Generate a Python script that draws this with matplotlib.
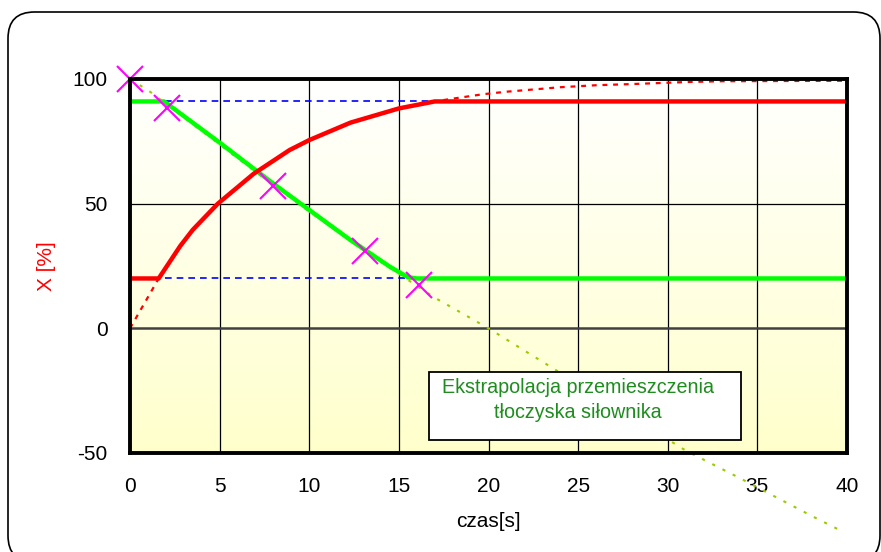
import numpy as np
import matplotlib.pyplot as plt
from matplotlib.patches import FancyBboxPatch

plt.rcParams['font.family'] = ['Liberation Sans', 'DejaVu Sans']
plt.rcParams['axes.unicode_minus'] = False

# czas [s] i przebiegi [%]
red_t = [0, 1.6, 2.8, 3.5, 4.9, 6.9, 8.9, 10, 12.3, 15, 17, 40]
red_x = [20, 20, 33, 39.5, 50, 62, 71.5, 75.5, 82.5, 88.2, 91, 91]

model_t = [0, 1.6, 2.8, 3.5, 4.9, 6.9, 8.9, 10, 12.3, 15, 17, 17.9, 19.7, 21, 24, 26, 28.1, 31.1, 33, 40]
model_x = [0, 20, 33, 39.5, 50, 62, 71.5, 75.5, 82.5, 88.2, 91, 92, 93.9, 94.9, 96.7, 97.5, 98, 98.8, 99.1, 99.3]

green_t = [0, 1.9, 5, 8, 12.3, 14.5, 15.5, 16, 40]
green_x = [91, 91, 74.5, 58, 35.4, 24.7, 20.5, 20, 20]

extra_t = [0, 1.1, 5.4, 9.1, 13, 16.9, 20, 31, 34, 38.1, 39.7]
extra_x = [100, 95, 71.5, 51.5, 31.5, 12.7, 0, -49, -60, -75.5, -81.3]

marker_t = [0, 2.05, 8.0, 13.1, 16.1]
marker_x = [100, 88.2, 57.1, 31, 17.5]

limits = [91, 20]

fig = plt.figure(figsize=(8.81, 5.52), dpi=100)
fig.patch.set_facecolor('white')

# zaokraglona ramka wokol wykresu
frame = FancyBboxPatch((8 / 881, -10 / 552), 872 / 881, 550 / 552,
                       boxstyle="round,pad=0,rounding_size=0.03",
                       transform=fig.transFigure, fill=False, ec='black', lw=1.2,
                       mutation_aspect=881 / 552)
fig.patches.append(frame)

ax = fig.add_axes([130 / 881, 1 - 453 / 552, 717 / 881, 374 / 552])
ax.set_xlim(0, 40)
ax.set_ylim(-50, 100)

grad = np.linspace(0, 1, 256).reshape(-1, 1)
cmap = plt.matplotlib.colors.LinearSegmentedColormap.from_list('bg', ['#FFFFCC', '#FFFFFF'])
ax.imshow(grad, extent=[0, 40, -50, 100], aspect='auto', cmap=cmap, origin='lower', zorder=0)

for xv in range(5, 40, 5):
    ax.axvline(xv, color='black', lw=0.9, zorder=1)
ax.axhline(50, color='black', lw=0.9, zorder=1)
ax.axhline(0, color='#404040', lw=1.8, zorder=1)

for lv in limits:
    ax.plot([0, 40], [lv, lv], color='#0000FF', lw=1.2, ls=(0, (4, 3)), zorder=3)

ax.plot(model_t, model_x, color='#FF0000', lw=1.6, ls=(0, (2.2, 2.6)), zorder=3)
ax.plot(extra_t, extra_x, color='#99CC00', lw=1.5, ls=(0, (1.5, 4)), zorder=3, clip_on=False)
ax.plot(green_t, green_x, color='#00FF00', lw=3.2, zorder=4)
ax.plot(red_t, red_x, color='#FF0000', lw=3.2, zorder=4)
ax.plot(marker_t, marker_x, ls='none', marker='x', ms=19, mew=1.5, color='#FF00FF', zorder=5, clip_on=False)

for s in ax.spines.values():
    s.set_linewidth(2.8)
    s.set_color('black')
    s.set_zorder(6)

ax.set_xticks(range(0, 45, 5))
ax.set_yticks([-50, 0, 50, 100])
ax.tick_params(axis='x', length=0, labelsize=15, pad=17)
ax.tick_params(axis='y', length=0, labelsize=15, pad=16)
ax.set_xlabel('czas[s]', fontsize=15, labelpad=12)
ax.set_ylabel('X [%]', fontsize=15, color='#FF0000', labelpad=12)

box = FancyBboxPatch((429 / 881, 1 - 440 / 552), 312 / 881, 68 / 552,
                     boxstyle="square,pad=0", transform=fig.transFigure,
                     fc='white', ec='black', lw=1.3, zorder=7)
fig.patches.append(box)
fig.text(578 / 881, 1 - 400 / 552, 'Ekstrapolacja przemieszczenia\ntłoczyska siłownika',
         ha='center', va='center', fontsize=14.2, color='#1E8C1E', linespacing=1.45, zorder=8)

fig.savefig('out.png', dpi=100)
